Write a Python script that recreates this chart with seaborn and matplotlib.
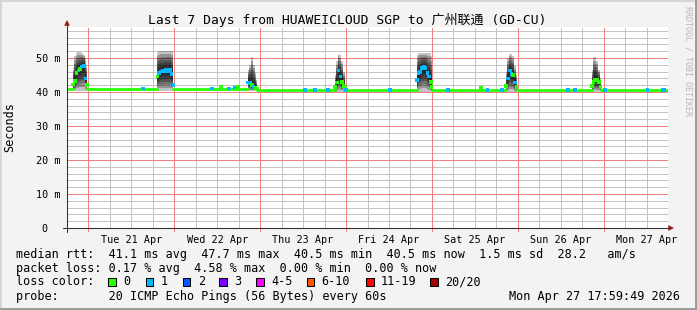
import matplotlib
matplotlib.use("Agg")
import numpy as np
import pandas as pd
import matplotlib.pyplot as plt
import matplotlib.dates as mdates
from matplotlib.ticker import MultipleLocator, FixedLocator, FixedFormatter
from matplotlib.lines import Line2D
from matplotlib.patches import Rectangle, Polygon
from matplotlib.transforms import ScaledTranslation
import seaborn as sns

# ---------------- data ----------------
title = "Last 7 Days from HUAWEICLOUD SGP to 广州联通 (GD-CU)"
x_start = "2026-04-20 17:59:49"
x_end = "2026-04-27 17:59:49"

# evening smoke bursts (one per day): time, median, upper / lower ping extent, lost pings
spike_time = [
    "2026-04-20 19:40", "2026-04-20 20:10", "2026-04-20 20:40", "2026-04-20 21:10", "2026-04-20 21:40",
    "2026-04-20 22:10", "2026-04-20 22:40", "2026-04-20 23:10", "2026-04-20 23:40",
    "2026-04-21 19:15", "2026-04-21 19:45", "2026-04-21 20:15", "2026-04-21 20:45", "2026-04-21 21:15",
    "2026-04-21 21:45", "2026-04-21 22:15", "2026-04-21 22:45", "2026-04-21 23:15", "2026-04-21 23:45",
    "2026-04-22 20:40", "2026-04-22 21:10", "2026-04-22 21:40", "2026-04-22 22:10", "2026-04-22 22:40",
    "2026-04-22 23:05",
    "2026-04-23 20:55", "2026-04-23 21:25", "2026-04-23 21:55", "2026-04-23 22:25", "2026-04-23 22:55",
    "2026-04-23 23:25", "2026-04-23 23:45",
    "2026-04-24 19:45", "2026-04-24 20:15", "2026-04-24 20:45", "2026-04-24 21:15", "2026-04-24 21:45",
    "2026-04-24 22:15", "2026-04-24 22:45", "2026-04-24 23:15", "2026-04-24 23:45", "2026-04-24 23:55",
    "2026-04-25 20:45", "2026-04-25 21:15", "2026-04-25 21:45", "2026-04-25 22:15", "2026-04-25 22:45",
    "2026-04-25 23:15", "2026-04-25 23:40",
    "2026-04-26 20:40", "2026-04-26 21:10", "2026-04-26 21:40", "2026-04-26 22:10", "2026-04-26 22:40",
    "2026-04-26 23:10",
]
spike_med = [
    42.2, 43.2, 45.5, 46.3, 46.8, 47.5, 47.7, 44.0, 42.0,
    44.5, 45.5, 46.0, 46.3, 46.0, 46.4, 46.2, 46.4, 45.2, 42.0,
    42.8, 42.6, 42.0, 41.5, 41.2, 41.0,
    41.5, 42.8, 46.3, 44.5, 43.0, 41.8, 41.2,
    43.6, 45.5, 45.8, 47.0, 47.5, 47.0, 45.5, 44.5, 43.0, 41.5,
    41.8, 44.0, 46.3, 45.3, 45.0, 42.8, 41.5,
    41.8, 43.0, 43.7, 43.5, 43.0, 41.5,
]
spike_hi = [
    47.0, 50.5, 51.5, 51.7, 51.7, 51.5, 51.0, 50.0, 48.0,
    51.5, 51.9, 51.9, 51.9, 51.9, 51.9, 51.9, 51.9, 51.9, 51.5,
    46.5, 48.0, 50.3, 48.0, 45.5, 43.5,
    45.0, 49.0, 51.2, 51.0, 49.0, 46.0, 44.0,
    51.0, 51.6, 51.6, 51.6, 51.6, 51.6, 51.6, 51.6, 51.6, 50.5,
    46.0, 50.0, 51.2, 51.2, 50.5, 47.5, 45.0,
    46.5, 50.2, 50.2, 49.0, 46.5, 44.0,
]
spike_lo = [
    40.4, 40.4, 40.4, 40.4, 40.4, 40.4, 40.4, 40.4, 40.4,
    40.4, 40.4, 40.4, 40.4, 40.4, 40.4, 40.4, 40.4, 40.4, 40.4,
    40.3, 40.3, 40.3, 40.3, 40.3, 40.3,
    40.0, 40.0, 40.0, 40.0, 40.0, 40.0, 40.0,
    40.0, 40.0, 40.0, 40.0, 40.0, 40.0, 40.0, 40.0, 40.0, 40.0,
    40.0, 40.0, 40.0, 40.0, 40.0, 40.0, 40.0,
    40.0, 40.0, 40.0, 40.0, 40.0, 40.0,
]
spike_loss = [
    0, 0, 0, 1, 0, 1, 1, 1, 0,
    0, 1, 1, 1, 1, 1, 1, 1, 1, 1,
    1, 1, 0, 1, 0, 0,
    0, 0, 1, 1, 0, 0, 0,
    1, 1, 1, 1, 1, 1, 1, 1, 0, 0,
    0, 1, 1, 1, 0, 1, 0,
    0, 0, 0, 0, 0, 0,
]

# flat median baseline between bursts
base_start = ["2026-04-20 17:59", "2026-04-20 23:40", "2026-04-21 23:45", "2026-04-22 23:05",
              "2026-04-23 23:45", "2026-04-24 23:55", "2026-04-25 23:40", "2026-04-26 23:10"]
base_end = ["2026-04-20 19:40", "2026-04-21 19:15", "2026-04-22 20:40", "2026-04-23 20:55",
            "2026-04-24 19:45", "2026-04-25 20:45", "2026-04-26 20:40", "2026-04-27 17:50"]
base_ms = [41.0, 41.0, 41.0, 40.5, 40.5, 40.5, 40.5, 40.5]

# isolated samples on the baseline (mostly single lost pings)
dot_time = ["2026-04-21 15:15", "2026-04-22 10:35", "2026-04-22 13:00", "2026-04-22 15:15",
            "2026-04-22 17:00", "2026-04-22 17:45", "2026-04-23 12:30", "2026-04-23 15:20",
            "2026-04-23 19:00", "2026-04-24 00:00", "2026-04-24 12:15", "2026-04-25 04:25",
            "2026-04-25 13:45", "2026-04-25 15:35", "2026-04-25 19:30", "2026-04-26 14:05",
            "2026-04-26 16:00", "2026-04-27 00:25", "2026-04-27 12:15", "2026-04-27 16:30",
            "2026-04-27 16:50"]
dot_ms = [41.0, 41.0, 41.4, 41.0, 41.3, 41.5, 40.5, 40.5, 40.5, 40.5, 40.5, 40.5,
          41.1, 40.5, 40.5, 40.5, 40.5, 40.6, 40.5, 40.5, 40.5]
dot_loss = [1, 1, 0, 1, 1, 0, 1, 1, 1, 1, 1, 1, 0, 1, 1, 1, 1, 1, 1, 1, 1]

ytick_vals = [0, 10, 20, 30, 40, 50]
ytick_labels = ["0", "10 m", "20 m", "30 m", "40 m", "50 m"]

loss_labels = ["0", "1", "2", "3", "4-5", "6-10", "11-19", "20/20"]
loss_colors = ["#26ff00", "#00b8ff", "#0059ff", "#7e00ff", "#ff00ff", "#ff5500", "#ff0000", "#a10000"]

legend_rows = [
    "median rtt:  41.1 ms avg  47.7 ms max  40.5 ms min  40.5 ms now  1.5 ms sd  28.2   am/s",
    "packet loss: 0.17 % avg  4.58 % max  0.00 % min  0.00 % now",
    "loss color:",
    "probe:       20 ICMP Echo Pings (56 Bytes) every 60s",
]
stamp = "Mon Apr 27 17:59:49 2026"
watermark = "RRDTOOL / TOBI OETIKER"

# ---------------- style ----------------
sns.set_style("white")
plt.rcParams['font.family'] = ['DejaVu Sans Mono', 'Noto Sans CJK SC']
BG = "#f3f3f3"
W, H = 697, 310
fig = plt.figure(figsize=(W / 100, H / 100), dpi=100, facecolor=BG)


def fx(px):
    return px / W


def fy(py):
    return 1 - py / H


def tnum(strings):
    return mdates.date2num(pd.to_datetime(strings, format="mixed"))


ax = fig.add_axes([fx(67), fy(228), (668 - 67) / W, (228 - 27) / H])
ax.set_facecolor("white")
for s in ax.spines.values():
    s.set_visible(False)

t0 = mdates.date2num(pd.Timestamp(x_start))
t1 = mdates.date2num(pd.Timestamp(x_end))

spk = pd.DataFrame({
    "t": tnum(spike_time),
    "day": pd.to_datetime(spike_time, format="mixed").date,
    "med": spike_med, "hi": spike_hi, "lo": spike_lo, "loss": spike_loss,
})
dots = pd.DataFrame({"t": tnum(dot_time), "med": dot_ms, "loss": dot_loss})
base = pd.DataFrame({
    "t": np.concatenate([tnum(base_start), tnum(base_end)]),
    "med": base_ms + base_ms,
    "seg": list(range(len(base_ms))) * 2,
}).sort_values(["seg", "t"])

# smoke
fracs = [1.0, 0.85, 0.7, 0.56, 0.42, 0.28, 0.14]
for _, g in spk.groupby("day"):
    for f in fracs:
        ax.fill_between(g["t"].to_numpy(), (g["med"] - f * (g["med"] - g["lo"])).to_numpy(),
                        (g["med"] + f * (g["hi"] - g["med"])).to_numpy(),
                        step="mid", color="black", alpha=0.24, linewidth=0, zorder=2)

# median baseline
sns.lineplot(data=base, x="t", y="med", units="seg", estimator=None, color=loss_colors[0],
             linewidth=2.0, ax=ax, zorder=3, legend=False)
# median samples coloured by loss
pts = pd.concat([spk[["t", "med", "loss"]], dots], ignore_index=True)
pal = {0: loss_colors[0], 1: loss_colors[1]}
sns.scatterplot(data=pts, x="t", y="med", hue="loss", palette=pal, marker="s", s=7,
                linewidth=0, ax=ax, zorder=4, legend=False)

ax.set_xlim(t0, t1)
ax.set_ylim(0, 59.1)
ax.set_xlabel("")
ax.set_ylabel("")

# grids
ax.xaxis.set_major_locator(mdates.HourLocator(byhour=[12]))
ax.xaxis.set_major_formatter(mdates.DateFormatter("%a %d %b"))
ax.xaxis.set_minor_locator(mdates.HourLocator(byhour=[0, 6, 18]))
ax.yaxis.set_major_locator(FixedLocator(ytick_vals))
ax.yaxis.set_major_formatter(FixedFormatter(ytick_labels))
ax.yaxis.set_minor_locator(MultipleLocator(2))
ax.set_axisbelow(True)
dot = (0, (1, 1))
gkw = dict(linestyle=dot, linewidth=0.72, antialiased=False)
ax.grid(which="both", axis="x", color="#c4c4c4", **gkw)
ax.grid(which="minor", axis="y", color="#c4c4c4", **gkw)
ax.grid(which="major", axis="y", color="#f08080", **gkw)
midnights = mdates.date2num(pd.date_range("2026-04-21", "2026-04-27", freq="D"))
ax.vlines(midnights, -1.0, 59.1, colors="#f08080", linestyles=[dot], linewidth=0.72,
          antialiased=False, zorder=0.8, clip_on=False)

ax.tick_params(axis="both", which="both", length=0)
ax.tick_params(axis="x", which="major", pad=5.2, labelsize=7.3, labelcolor="#000000")
ax.tick_params(axis="y", which="major", pad=5.0, labelsize=7.3, labelcolor="#000000")
lbl0 = ax.get_yticklabels()[0]
lbl0.set_transform(lbl0.get_transform() + ScaledTranslation(-12.2 / 100, 0, fig.dpi_scale_trans))

# axis lines & arrows
axc = "#303030"
fig.add_artist(Line2D([fx(63), fx(669)], [fy(228), fy(228)], color=axc, lw=0.75))
fig.add_artist(Line2D([fx(67), fx(67)], [fy(232), fy(25)], color=axc, lw=0.75))
arc = "#8b1a1a"
fig.add_artist(Polygon([[fx(64.5), fy(25.5)], [fx(69.5), fy(25.5)], [fx(67), fy(20.5)]], closed=True,
                       facecolor=arc, edgecolor=arc, lw=0.3))
fig.add_artist(Polygon([[fx(668.5), fy(225.5)], [fx(668.5), fy(230.5)], [fx(673.5), fy(228)]], closed=True,
                       facecolor=arc, edgecolor=arc, lw=0.3))

# texts
fig.text(fx(347), fy(20), title, ha="center", va="center", fontsize=9.4, color="#000000")
fig.text(fx(10), fy(127), "Seconds", rotation=90, ha="center", va="center", fontsize=8.5, color="#000000")
fig.text(fx(688), fy(6), watermark, rotation=270, ha="center", va="top", fontsize=6, color="#b8b8b8")

row_y = [254.3, 268.3, 281.7, 296.7]
for txt, yy in zip(legend_rows, row_y):
    fig.text(fx(16), fy(yy), txt, ha="left", va="center", fontsize=8.5, color="#000000")
fig.text(fx(680), fy(row_y[3]), stamp, ha="right", va="center", fontsize=8.5, color="#000000")

box_x = [108.3, 145.7, 182.7, 219.3, 256.0, 306.7, 366.0, 430.3]
for bx, lab, col in zip(box_x, loss_labels, loss_colors):
    fig.add_artist(Rectangle((fx(bx), fy(285.5)), 7.5 / W, 8 / H, facecolor=col, edgecolor="#000000", lw=0.75))
    fig.text(fx(bx + 15), fy(row_y[2]), lab, ha="left", va="center", fontsize=8.5, color="#000000")

# frame
fig.add_artist(Line2D([0, 1], [fy(0.5), fy(0.5)], color="#d6d6d6", lw=1.4))
fig.add_artist(Line2D([fx(0.5), fx(0.5)], [0, 1], color="#d6d6d6", lw=1.4))
fig.add_artist(Line2D([0, 1], [fy(309), fy(309)], color="#9a9a9a", lw=1.4))
fig.add_artist(Line2D([fx(696), fx(696)], [0, 1], color="#9a9a9a", lw=1.4))

fig.savefig("out.png", dpi=100, facecolor=BG)
